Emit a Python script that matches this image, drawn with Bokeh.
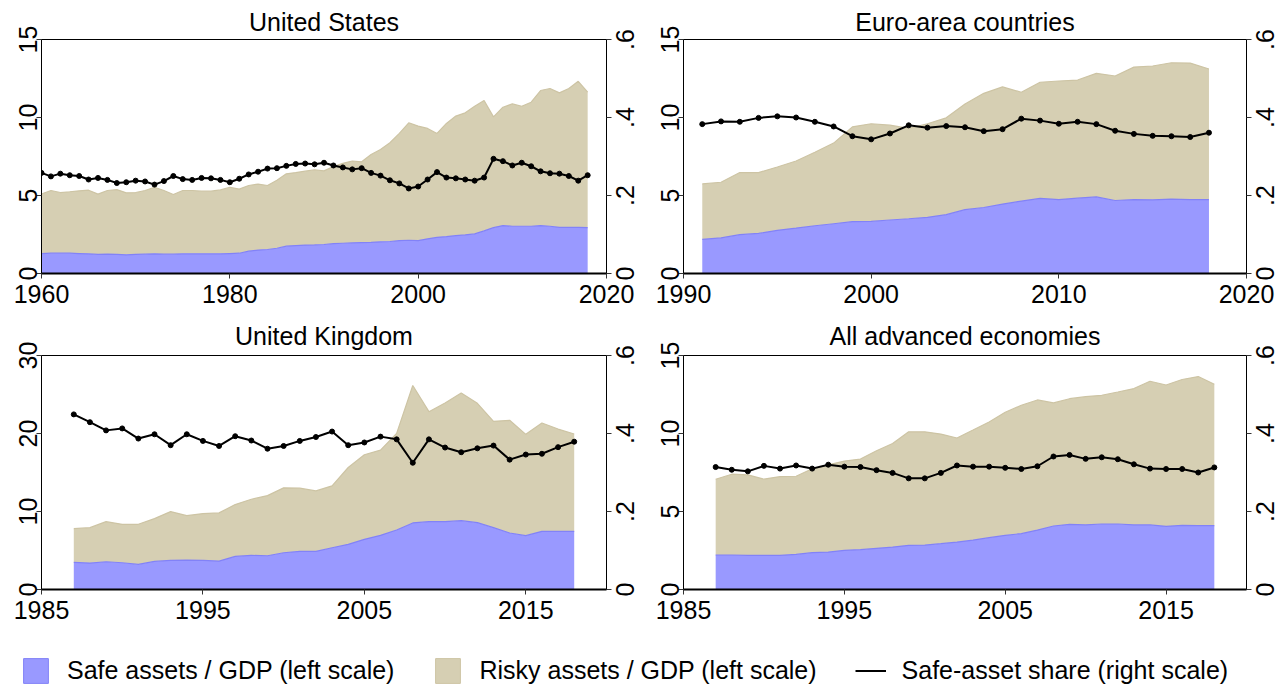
import numpy as np
from bokeh.plotting import figure
from bokeh.models import (Range1d, LinearAxis, FixedTicker, CustomJSTickFormatter,
                          Legend, LegendItem, ColumnDataSource)
from bokeh.layouts import column, row
from bokeh.embed import file_html
from bokeh.resources import INLINE

# ---------------- data ----------------
us_years = list(range(1960, 2019))
us_safe = [1.28, 1.30, 1.30, 1.30, 1.28, 1.26, 1.22, 1.24, 1.22, 1.20,
           1.22, 1.24, 1.26, 1.24, 1.24, 1.26, 1.26, 1.26, 1.26, 1.26,
           1.28, 1.30, 1.43, 1.50, 1.54, 1.62, 1.75, 1.79, 1.82, 1.83,
           1.86, 1.91, 1.94, 1.96, 1.98, 2.00, 2.03, 2.05, 2.11, 2.13,
           2.11, 2.22, 2.32, 2.37, 2.43, 2.47, 2.54, 2.73, 2.94, 3.07,
           3.03, 3.03, 3.03, 3.07, 3.03, 2.96, 2.96, 2.96, 2.94]
us_total = [5.10, 5.32, 5.19, 5.24, 5.30, 5.34, 5.09, 5.32, 5.38, 5.17,
            5.19, 5.32, 5.53, 5.32, 5.06, 5.32, 5.32, 5.28, 5.28, 5.36,
            5.53, 5.41, 5.64, 5.73, 5.64, 5.98, 6.39, 6.47, 6.56, 6.65,
            6.58, 6.86, 7.06, 7.21, 7.16, 7.63, 7.95, 8.38, 8.98, 9.66,
            9.45, 9.30, 8.98, 9.62, 10.09, 10.30, 10.72, 11.09, 10.04, 10.66,
            10.87, 10.72, 10.98, 11.73, 11.86, 11.58, 11.86, 12.32, 11.62]
us_share = [.258, .249, .256, .252, .250, .241, .245, .240, .232, .234,
            .238, .236, .228, .237, .250, .242, .240, .245, .244, .240,
            .234, .243, .254, .261, .269, .270, .276, .281, .282, .280,
            .284, .277, .272, .267, .270, .258, .251, .239, .231, .218,
            .223, .241, .260, .246, .244, .241, .238, .246, .294, .288,
            .277, .284, .275, .262, .257, .256, .250, .238, .252]

eu_years = list(range(1991, 2019))
eu_safe = [2.19, 2.28, 2.49, 2.57, 2.77, 2.91, 3.06, 3.19, 3.32, 3.34,
           3.43, 3.51, 3.60, 3.77, 4.09, 4.23, 4.45, 4.64, 4.81, 4.74,
           4.83, 4.91, 4.68, 4.74, 4.72, 4.77, 4.74, 4.74]
eu_total = [5.74, 5.85, 6.47, 6.47, 6.83, 7.21, 7.77, 8.36, 9.40, 9.60,
            9.51, 9.30, 9.60, 9.98, 10.87, 11.55, 11.96, 11.62, 12.26, 12.34,
            12.40, 12.83, 12.66, 13.23, 13.30, 13.51, 13.49, 13.11]
eu_share = [.383, .390, .389, .399, .403, .400, .389, .377, .352, .344,
            .359, .380, .374, .378, .375, .365, .370, .397, .392, .384,
            .389, .383, .366, .358, .353, .352, .350, .361]

uk_years = list(range(1987, 2019))
uk_safe = [3.47, 3.39, 3.56, 3.43, 3.21, 3.60, 3.73, 3.77, 3.73, 3.64,
           4.24, 4.37, 4.33, 4.71, 4.89, 4.89, 5.35, 5.79, 6.43, 6.94,
           7.63, 8.53, 8.70, 8.70, 8.83, 8.57, 7.93, 7.24, 6.90, 7.46,
           7.46, 7.46]
uk_total = [7.80, 7.93, 8.70, 8.36, 8.36, 9.09, 9.99, 9.47, 9.73, 9.82,
            10.89, 11.57, 12.04, 13.03, 12.99, 12.64, 13.29, 15.64, 17.27, 17.87,
            20.02, 26.15, 22.80, 23.92, 25.20, 23.87, 21.56, 21.69, 19.89, 21.35,
            20.57, 19.93]
uk_share = [.449, .429, .408, .413, .387, .398, .370, .398, .381, .368,
            .393, .382, .361, .368, .381, .391, .405, .370, .377, .392,
            .385, .325, .385, .364, .352, .362, .369, .333, .346, .348,
            .365, .379]

adv_years = list(range(1987, 2019))
adv_safe = [2.21, 2.21, 2.19, 2.19, 2.19, 2.25, 2.36, 2.40, 2.51, 2.55,
            2.64, 2.72, 2.83, 2.85, 2.94, 3.04, 3.17, 3.32, 3.47, 3.58,
            3.81, 4.07, 4.18, 4.14, 4.20, 4.20, 4.14, 4.14, 4.05, 4.11,
            4.09, 4.09]
adv_total = [7.07, 7.39, 7.35, 7.07, 7.24, 7.26, 7.74, 7.99, 8.23, 8.36,
             8.89, 9.36, 10.11, 10.11, 9.96, 9.71, 10.22, 10.74, 11.36, 11.81,
             12.15, 11.96, 12.23, 12.36, 12.45, 12.66, 12.88, 13.35, 13.11, 13.46,
             13.65, 13.16]
adv_share = [.314, .307, .303, .317, .310, .318, .310, .320, .315, .314,
             .306, .299, .285, .285, .299, .318, .315, .315, .312, .309,
             .316, .341, .345, .335, .339, .334, .321, .310, .309, .309,
             .300, .313]

titles = ["United States", "Euro-area countries", "United Kingdom", "All advanced economies"]
legend_labels = ["Safe assets / GDP (left scale)",
                 "Risky assets / GDP (left scale)",
                 "Safe-asset share (right scale)"]
share_ticks = [0, 0.2, 0.4, 0.6]

# ---------------- styling ----------------
FONT = "Liberation Sans"
FS = "25px"
SAFE_FILL = "#9999ff"
SAFE_LINE = "#8282f7"
RISK_FILL = "#d6cfb3"
RISK_LINE = "#cdc4a4"
BR = 33          # right border of each panel (room for right-scale labels)
SW = 42          # width of the transparent right-scale label strip

share_fmt = CustomJSTickFormatter(code="""
    if (Math.abs(tick) < 1e-9) { return "0"; }
    return tick.toFixed(1).replace(/^0/, "");
""")
no_labels = CustomJSTickFormatter(code='return "";')


def style_axis(ax, orient, standoff):
    ax.major_label_text_font = FONT
    ax.major_label_text_font_size = FS
    ax.major_label_text_color = "black"
    ax.major_tick_out = 5
    ax.major_tick_in = 0
    ax.minor_tick_out = 0
    ax.minor_tick_in = 0
    ax.axis_line_color = "black"
    ax.axis_line_width = 1
    ax.major_tick_line_color = "#333333"
    ax.major_tick_line_width = 1
    ax.major_label_standoff = standoff
    if orient is not None:
        ax.major_label_orientation = orient


def panel(title, years, safe, total, share, xr, xticks, ymax, yticks,
          frame_w, height, bl, bt, bb, tstand):
    p = figure(width=bl + frame_w + BR, height=height, output_backend="svg",
               toolbar_location=None,
               x_range=Range1d(xr[0], xr[1]), y_range=Range1d(0, ymax),
               min_border_left=bl, min_border_right=BR,
               min_border_top=bt, min_border_bottom=bb)
    p.extra_y_ranges = {"share": Range1d(0, 0.6)}
    src = ColumnDataSource(dict(year=years, safe=safe, total=total, share=share))

    p.varea(x="year", y1="safe", y2="total", source=src, fill_color=RISK_FILL)
    p.line(x="year", y="total", source=src, line_color=RISK_LINE, line_width=1.2)
    p.varea(x="year", y1=0, y2="safe", source=src, fill_color=SAFE_FILL)
    p.line(x="year", y="safe", source=src, line_color=SAFE_LINE, line_width=1.2)
    p.line(x="year", y="share", source=src, y_range_name="share",
           line_color="black", line_width=2)
    p.scatter(x="year", y="share", source=src, y_range_name="share",
              size=5, fill_color="black", line_color="black")

    p.xgrid.visible = False
    p.ygrid.visible = False
    p.outline_line_color = "black"
    p.outline_line_width = 1
    p.background_fill_color = "white"
    p.border_fill_color = "white"

    p.xaxis.ticker = FixedTicker(ticks=xticks)
    p.yaxis.ticker = FixedTicker(ticks=yticks)
    style_axis(p.xaxis[0], None, 6)
    p.xaxis[0].axis_line_width = 2
    style_axis(p.yaxis[0], "vertical", 0)

    # right axis: line and ticks here; its labels come from the overlaid strip
    rax = LinearAxis(y_range_name="share", ticker=FixedTicker(ticks=share_ticks),
                     formatter=no_labels)
    style_axis(rax, None, 0)
    p.add_layout(rax, "right")

    p.title.text = title
    p.title.text_font = FONT
    p.title.text_font_size = FS
    p.title.text_font_style = "normal"
    p.title.text_color = "black"
    p.title.align = "center"
    p.title.standoff = tstand
    return p


def share_strip(height, bt, bb):
    """Right-scale tick labels (rotated counter-clockwise like the left scale),
    drawn on a transparent strip laid over the panel's right border."""
    s = figure(width=SW, height=height, output_backend="svg", toolbar_location=None,
               x_range=Range1d(0, 1), y_range=Range1d(0, 0.6),
               min_border_left=SW - 1, min_border_right=0,
               min_border_top=bt, min_border_bottom=bb,
               x_axis_location=None, y_axis_location="left",
               margin=(0, 0, 0, -SW))
    s.outline_line_color = None
    s.xgrid.visible = False
    s.ygrid.visible = False
    s.background_fill_color = None
    s.border_fill_color = None
    ax = s.yaxis[0]
    ax.ticker = FixedTicker(ticks=share_ticks)
    ax.formatter = share_fmt
    style_axis(ax, "vertical", 5)
    ax.major_tick_out = 0
    ax.axis_line_color = None
    ax.major_tick_line_color = None
    return s


H1, H2 = 312, 316
p_us = panel(titles[0], us_years, us_safe, us_total, us_share, (1960, 2020),
             [1960, 1980, 2000, 2020], 15, [0, 5, 10, 15],
             565, H1, 33, 39, 39, 8)
p_eu = panel(titles[1], eu_years, eu_safe, eu_total, eu_share, (1990, 2020),
             [1990, 2000, 2010, 2020], 15, [0, 5, 10, 15],
             563, H1, 44, 39, 39, 8)
p_uk = panel(titles[2], uk_years, uk_safe, uk_total, uk_share, (1985, 2020),
             [1985, 1995, 2005, 2015], 30, [0, 10, 20, 30],
             565, H2, 33, 43, 39, 11)
p_adv = panel(titles[3], adv_years, adv_safe, adv_total, adv_share, (1985, 2020),
              [1985, 1995, 2005, 2015], 15, [0, 5, 10, 15],
              563, H2, 44, 43, 39, 11)

# ---------------- legend strip ----------------
pl = figure(width=1268, height=58, output_backend="svg", toolbar_location=None,
            min_border=0, x_range=Range1d(0, 1), y_range=Range1d(0, 1),
            x_axis_location=None, y_axis_location=None)
pl.outline_line_color = None
pl.xgrid.visible = False
pl.ygrid.visible = False
# legend-only renderers: a single missing (NaN) value, nothing is drawn in the strip
nan1 = np.array([np.nan])
swatch = ColumnDataSource(dict(left=nan1, right=nan1, bottom=nan1, top=nan1, x=nan1, y=nan1))
r_safe = pl.quad(left="left", right="right", bottom="bottom", top="top", source=swatch,
                 fill_color=SAFE_FILL, line_color=SAFE_LINE)
r_risk = pl.quad(left="left", right="right", bottom="bottom", top="top", source=swatch,
                 fill_color=RISK_FILL, line_color=RISK_LINE)
r_share = pl.line(x="x", y="y", source=swatch, line_color="black", line_width=2)
leg = Legend(items=[LegendItem(label=legend_labels[0], renderers=[r_safe]),
                    LegendItem(label=legend_labels[1], renderers=[r_risk]),
                    LegendItem(label=legend_labels[2], renderers=[r_share])],
             orientation="horizontal", location=(12, 0), padding=0, margin=0,
             spacing=38, label_standoff=16, glyph_width=31, glyph_height=31,
             label_height=31,
             label_text_font=FONT, label_text_font_size=FS, label_text_color="black",
             border_line_color=None, background_fill_alpha=0)
pl.add_layout(leg)

layout = column(
    row(p_us, share_strip(H1, 39, 39), p_eu, share_strip(H1, 39, 39)),
    row(p_uk, share_strip(H2, 43, 39), p_adv, share_strip(H2, 43, 39)),
    pl, margin=(0, 0, 0, 8))

with open("out.html", "w") as f:
    f.write(file_html(layout, INLINE))
